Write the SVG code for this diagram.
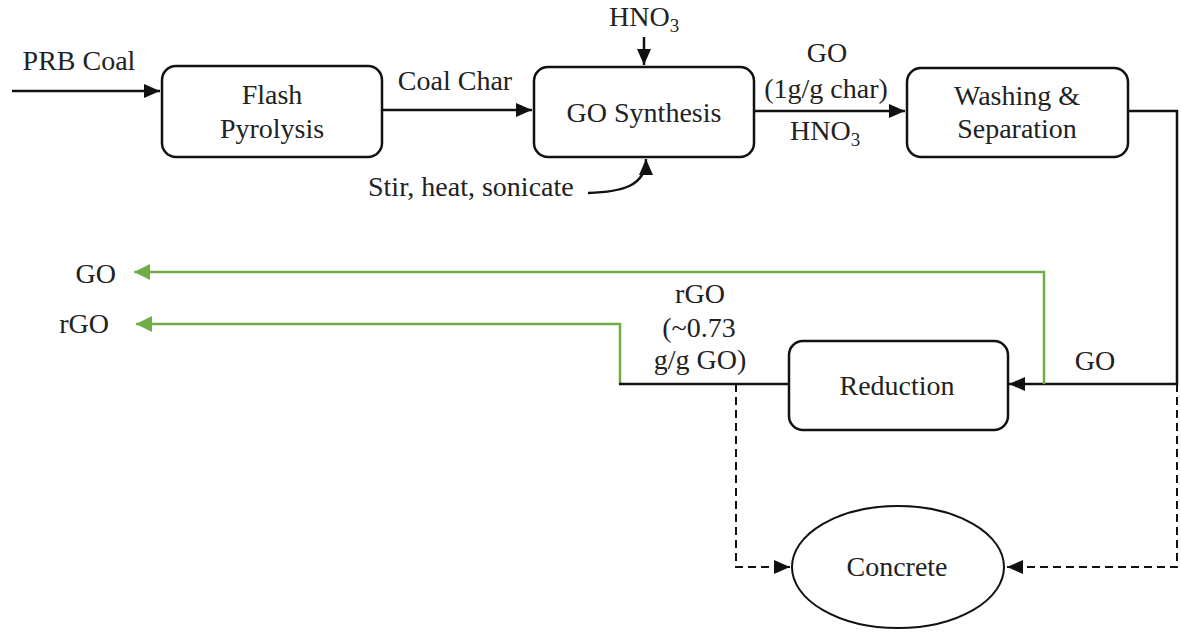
<svg xmlns="http://www.w3.org/2000/svg" width="1181" height="635" viewBox="0 0 1181 635">
<defs>
<style>
text{font-family:"Liberation Serif","Times New Roman",serif;font-size:28px;fill:#222;}
.box{fill:#fff;stroke:#111;stroke-width:2.5;}
.ln{fill:none;stroke:#111;stroke-width:2.5;}
.gr{fill:none;stroke:#70AD47;stroke-width:2.5;}
.ds{fill:none;stroke:#111;stroke-width:2;stroke-dasharray:8 5;}
.m{text-anchor:middle;}
.e{text-anchor:end;}
.sub{font-size:19px;}
</style>
<marker id="ah" markerUnits="userSpaceOnUse" markerWidth="16" markerHeight="14" refX="16" refY="7" orient="auto"><path d="M0,0 L16,7 L0,14 z" fill="#111"/></marker>
<marker id="ahg" markerUnits="userSpaceOnUse" markerWidth="16" markerHeight="16" refX="16" refY="8" orient="auto"><path d="M0,0 L16,8 L0,16 z" fill="#70AD47"/></marker>
</defs>
<rect width="1181" height="635" fill="#fff"/>
<g id="connectors">
<path class="ln" d="M12,91 H160" marker-end="url(#ah)"/>
<path class="ln" d="M382,110 H532" marker-end="url(#ah)"/>
<path class="ln" d="M644,37 V65" marker-end="url(#ah)"/>
<path class="ln" d="M588,193 C622,192 646,186 646,159" marker-end="url(#ah)"/>
<path class="ln" d="M754,111 H905" marker-end="url(#ah)"/>
<path class="ln" d="M1128,111 H1177 V384 H1009" marker-end="url(#ah)"/>
<path class="gr" d="M1044,384 V272 H134" marker-end="url(#ahg)"/>
<path class="gr" d="M620,384 V324 H136" marker-end="url(#ahg)"/>
<path class="ln" d="M619,384 H790"/>
<path class="ds" d="M736,384 V567 H790" marker-end="url(#ah)"/>
<path class="ds" d="M1177,384 V567 H1007" marker-end="url(#ah)"/>
</g>
<g id="labels">
<text x="79" y="70" class="m">PRB Coal</text>
<text x="455" y="90" class="m">Coal Char</text>
<text x="609" y="26">HNO<tspan class="sub" dy="6">3</tspan></text>
<text x="368" y="196">Stir, heat, sonicate</text>
<text x="827" y="62" class="m">GO</text>
<text x="826" y="98" class="m">(1g/g char)</text>
<text x="790" y="140">HNO<tspan class="sub" dy="6">3</tspan></text>
<text x="1095" y="370" class="m">GO</text>
<text x="116" y="283" class="e">GO</text>
<text x="109" y="333" class="e">rGO</text>
<text x="700" y="303" class="m">rGO</text>
<text x="699" y="337" class="m">(~0.73</text>
<text x="700" y="369" class="m">g/g GO)</text>
</g>
<g id="flash">
<rect class="box" x="162" y="66" width="220" height="91" rx="14"/>
<text x="272" y="104" class="m">Flash</text>
<text x="272" y="138" class="m">Pyrolysis</text>
</g>
<g id="gosynthesis">
<rect class="box" x="534" y="67" width="220" height="90" rx="14"/>
<text x="644" y="122" class="m">GO Synthesis</text>
</g>
<g id="washing">
<rect class="box" x="907" y="68" width="221" height="89" rx="14"/>
<text x="1017" y="105" class="m">Washing &amp;</text>
<text x="1017" y="138" class="m">Separation</text>
</g>
<g id="reduction">
<rect class="box" x="789" y="341" width="219" height="89" rx="14"/>
<text x="897" y="395" class="m">Reduction</text>
</g>
<g id="concrete">
<ellipse class="box" cx="898" cy="567" rx="106" ry="61" style="stroke-width:2"/>
<text x="897" y="576" class="m">Concrete</text>
</g>
</svg>
